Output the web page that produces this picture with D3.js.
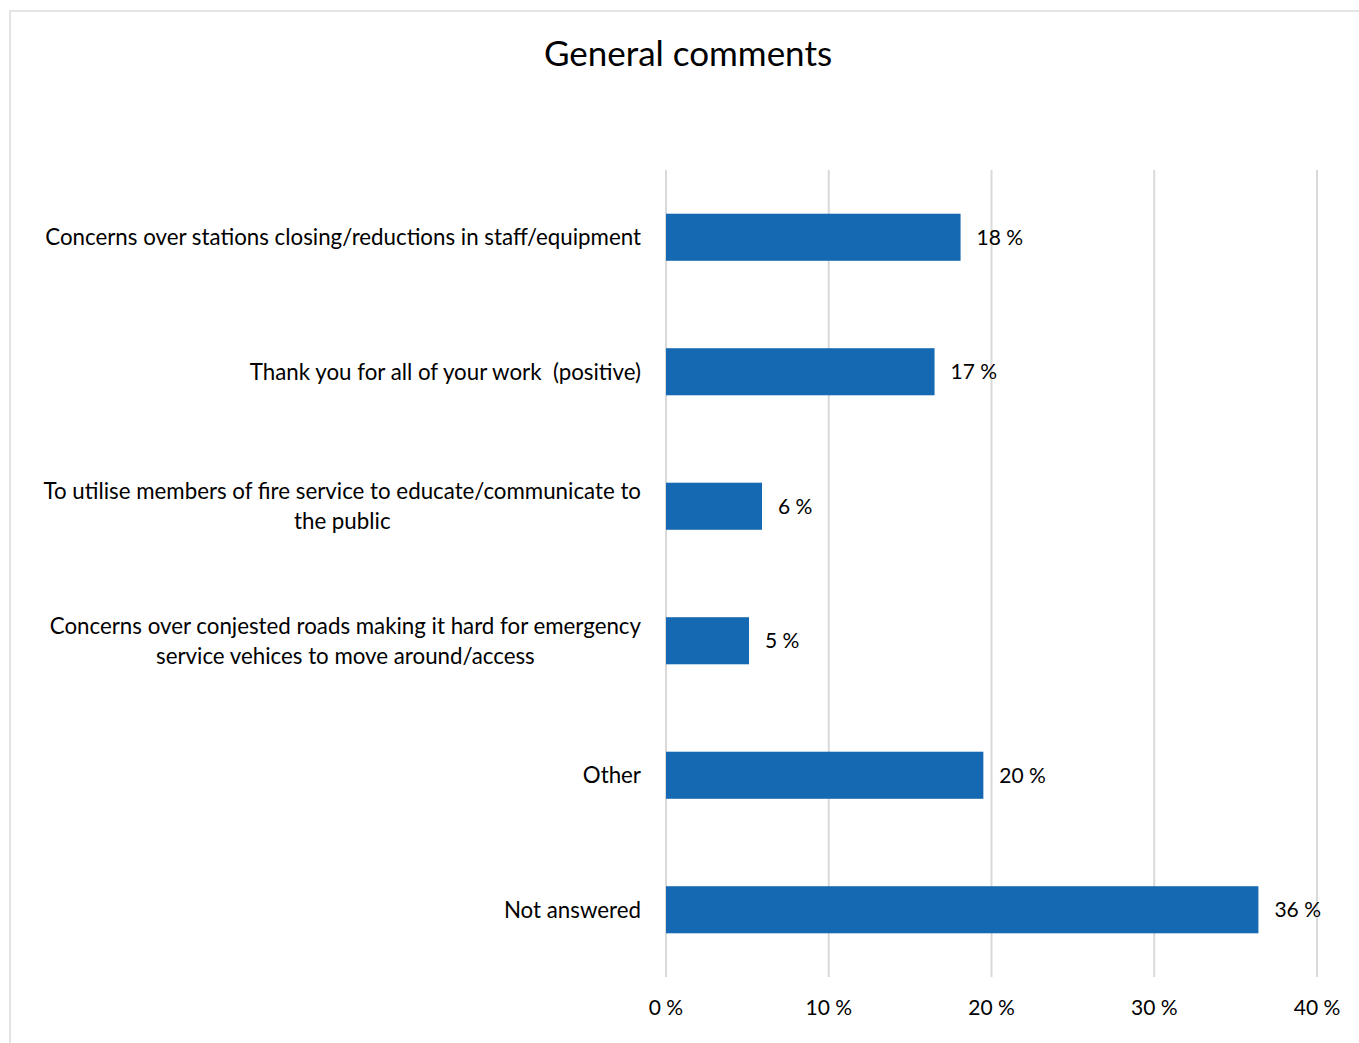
<!DOCTYPE html>
<html><head><meta charset="utf-8">
<script src="https://cdn.jsdelivr.net/npm/d3@7/dist/d3.min.js"></script>
<style>
html,body{margin:0;padding:0;background:#fff;}
svg text{font-family:"Lato","Open Sans",sans-serif;fill:#000;white-space:pre;}
</style></head>
<body>
<svg id="chart" width="1359" height="1043"></svg>
<script>
const title = "General comments";
const categories = [
  ["Concerns over stations closing/reductions in staff/equipment"],
  ["Thank you for all of your work  (positive)"],
  ["To utilise members of fire service to educate/communicate to", "the public"],
  ["Concerns over conjested roads making it hard for emergency", "service vehices to move around/access"],
  ["Other"],
  ["Not answered"]
];
const values = [18.1, 16.5, 5.9, 5.1, 19.5, 36.4];
const valueLabels = ["18 %", "17 %", "6 %", "5 %", "20 %", "36 %"];
const tickValues = [0, 10, 20, 30, 40];
const tickLabels = ["0 %", "10 %", "20 %", "30 %", "40 %"];

const svg = d3.select("#chart");
svg.append("rect").attr("x", 10).attr("y", 11).attr("width", 1400).attr("height", 1100)
  .attr("fill", "none").attr("stroke", "#e4e4e4").attr("stroke-width", 2);

const plotLeft = 666, plotRight = 1317, plotTop = 170, plotBottom = 977;
const x = d3.scaleLinear().domain([0, 40]).range([plotLeft, plotRight]);
const y = d3.scaleBand().domain(d3.range(categories.length)).range([plotTop, plotBottom]).paddingInner(0.65).paddingOuter(0.325);

svg.append("text").attr("x", 688).attr("y", 66).attr("text-anchor", "middle")
  .style("font-size", "35px").text(title);

// gridlines
svg.append("g").selectAll("line").data(tickValues).join("line")
  .attr("x1", d => x(d)).attr("x2", d => x(d)).attr("y1", plotTop).attr("y2", plotBottom)
  .attr("stroke", "#d9d9d9").attr("stroke-width", 2);

// bars
svg.append("g").selectAll("rect").data(values).join("rect")
  .attr("x", x(0)).attr("y", (d, i) => y(i)).attr("width", d => x(d) - x(0)).attr("height", y.bandwidth())
  .attr("fill", "#1569b3");

// value labels
svg.append("g").selectAll("text").data(values).join("text")
  .attr("x", d => x(d) + 16).attr("y", (d, i) => y(i) + y.bandwidth() / 2).attr("dy", "0.35em")
  .style("font-size", "21px").text((d, i) => valueLabels[i]);

// tick labels
svg.append("g").selectAll("text").data(tickValues).join("text")
  .attr("x", d => x(d)).attr("y", 1008).attr("dy", "0.35em").attr("text-anchor", "middle")
  .style("font-size", "21px").text((d, i) => tickLabels[i]);

// category labels: lines centred within a block whose right edge sits left of the axis
const labelRight = 641;
const cg = svg.append("g");
categories.forEach((lines, i) => {
  const cy = y(i) + y.bandwidth() / 2;
  const texts = lines.map((l, j) => cg.append("text")
    .attr("y", cy + (j - (lines.length - 1) / 2) * 30).attr("dy", "0.35em")
    .attr("text-anchor", "middle").style("font-size", "22.3px").text(l));
  const maxW = d3.max(texts, t => t.node().getComputedTextLength());
  texts.forEach(t => t.attr("x", labelRight - maxW / 2));
});
</script>
</body></html>
